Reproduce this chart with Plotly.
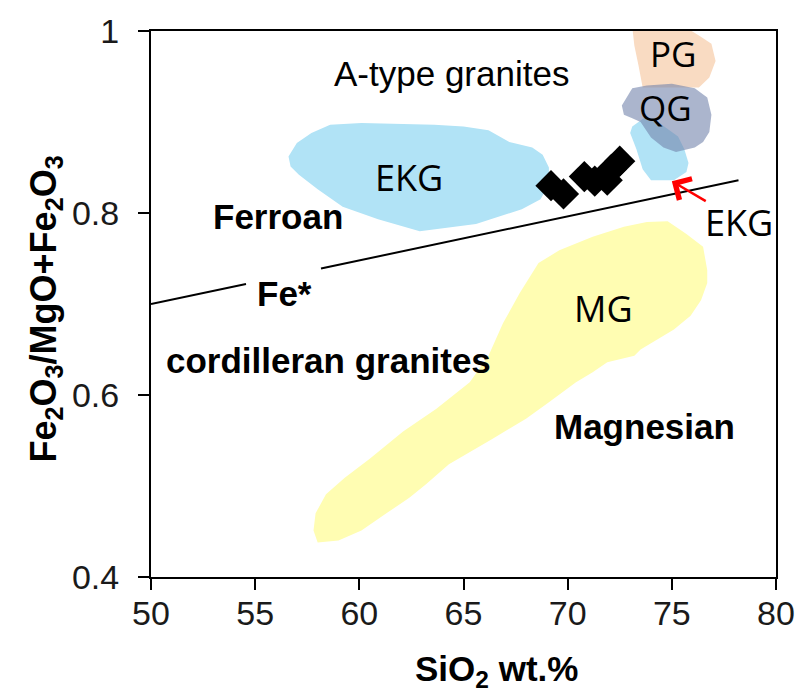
import plotly.graph_objects as go

# ---- data (SiO2 wt.%, Fe2O3/(MgO+Fe2O3)) ----
ekg_x = [56.6, 57.0, 57.7, 58.6, 60.1, 63.6, 65.0, 66.2, 67.2, 68.3, 68.8, 69.1, 69.1, 68.7, 67.8, 65.6, 62.9, 60.9, 59.2, 58.0, 57.1, 56.7]
ekg_y = [0.862, 0.877, 0.888, 0.897, 0.899, 0.897, 0.895, 0.891, 0.878, 0.872, 0.864, 0.850, 0.832, 0.815, 0.804, 0.788, 0.780, 0.793, 0.807, 0.826, 0.842, 0.851]

ekg2_x = [73.1, 73.7, 74.4, 75.3, 75.6, 75.8, 75.7, 75.1, 74.0, 73.6, 73.3, 73.0]
ekg2_y = [0.895, 0.905, 0.899, 0.884, 0.870, 0.855, 0.845, 0.836, 0.836, 0.848, 0.870, 0.888]

pg_x = [73.1, 75.6, 76.3, 76.9, 77.1, 76.8, 76.3, 75.1, 73.6, 73.4, 73.2]
pg_y = [1.005, 1.005, 0.995, 0.986, 0.967, 0.949, 0.938, 0.938, 0.938, 0.962, 0.984]

qg_x = [72.6, 73.1, 73.8, 75.0, 76.1, 76.7, 76.9, 76.8, 76.5, 76.1, 75.2, 74.6, 74.0, 73.5, 73.1, 72.7]
qg_y = [0.918, 0.937, 0.940, 0.942, 0.937, 0.927, 0.908, 0.889, 0.878, 0.872, 0.867, 0.872, 0.883, 0.900, 0.904, 0.908]

mg_x = [74.8, 75.7, 76.5, 76.7, 76.7, 76.4, 75.9, 75.1, 74.3, 73.5, 73.2, 71.9, 71.2, 70.4, 69.1, 68.0, 66.4, 65.6, 64.3, 63.2, 62.4, 61.3, 60.1, 59.0, 58.0, 57.8, 57.9, 58.4, 59.3, 60.5, 62.1, 63.7, 65.3, 66.2, 66.9, 67.7, 68.6, 69.6, 71.2, 72.7, 73.8]
mg_y = [0.791, 0.777, 0.763, 0.737, 0.723, 0.704, 0.687, 0.672, 0.661, 0.650, 0.643, 0.636, 0.625, 0.614, 0.592, 0.574, 0.552, 0.541, 0.524, 0.502, 0.487, 0.470, 0.451, 0.440, 0.438, 0.451, 0.470, 0.491, 0.509, 0.530, 0.560, 0.585, 0.614, 0.643, 0.679, 0.712, 0.745, 0.759, 0.774, 0.785, 0.790]

samples_x = [69.2, 69.8, 70.8, 71.3, 71.9, 72.1, 72.5]
samples_y = [0.830, 0.821, 0.840, 0.835, 0.836, 0.848, 0.857]

fe_line_x = [50.0, 54.56, None, 58.16, 78.2]
fe_line_y = [0.700, 0.722, None, 0.739, 0.836]

arrow_head = (75.0, 0.835)
arrow_tail = (76.7, 0.812)

x_ticks = [50, 55, 60, 65, 70, 75, 80]
y_ticks = [0.4, 0.6, 0.8, 1.0]
y_tick_text = ["0.4", "0.6", "0.8", "1"]

fig = go.Figure()

def region(xs, ys, color, opacity=1.0):
    fig.add_trace(go.Scatter(x=xs, y=ys, mode="lines", fill="toself",
                             fillcolor=color, line=dict(width=0, color=color),
                             opacity=opacity, hoverinfo="skip", showlegend=False))

region(ekg_x, ekg_y, "rgb(177,227,246)")
region(pg_x, pg_y, "rgb(249,219,194)")
region(ekg2_x, ekg2_y, "rgb(177,227,246)")
region(qg_x, qg_y, "rgb(115,132,172)", 0.6)
region(mg_x, mg_y, "rgb(255,253,178)")

fig.add_trace(go.Scatter(x=fe_line_x, y=fe_line_y, mode="lines",
                         line=dict(color="black", width=2), showlegend=False,
                         hoverinfo="skip"))

fig.add_trace(go.Scatter(x=samples_x, y=samples_y, mode="markers",
                         marker=dict(symbol="diamond", size=24, color="black"),
                         showlegend=False))

arial = "Liberation Sans, Arial, sans-serif"
sans = "Open Sans, Noto Sans, sans-serif"

labels = [
    ("A-type granites", 64.4, 0.953, arial, 35, False),
    ("EKG", 62.4, 0.839, sans, 36, False),
    ("PG", 75.1, 0.975, sans, 35, False),
    ("QG", 74.7, 0.916, sans, 35, False),
    ("MG", 71.7, 0.695, sans, 36, False),
    ("EKG", 78.2, 0.790, sans, 36, False),
    ("Ferroan", 56.1, 0.796, arial, 35, True),
    ("Fe*", 56.4, 0.712, arial, 35, True),
    ("cordilleran granites", 58.5, 0.638, arial, 35, True),
    ("Magnesian", 73.7, 0.565, arial, 35, True),
]
for txt, x, y, fam, size, bold in labels:
    fig.add_annotation(x=x, y=y, xref="x", yref="y", showarrow=False,
                       text=f"<b>{txt}</b>" if bold else txt,
                       font=dict(family=fam, size=size, color="black"))

fig.add_annotation(x=arrow_head[0], y=arrow_head[1], ax=arrow_tail[0], ay=arrow_tail[1],
                   xref="x", yref="y", axref="x", ayref="y", text="",
                   showarrow=True, arrowhead=4, arrowsize=1.9, arrowwidth=2.5,
                   arrowcolor="red")

fig.add_annotation(x=0.553, y=-0.172, xref="paper", yref="paper", showarrow=False,
                   text="<b>SiO<sub>2</sub> wt.%</b>", xanchor="center", yanchor="middle",
                   font=dict(family=arial, size=35, color="black"))
fig.add_annotation(x=-0.168, y=0.49, xref="paper", yref="paper", showarrow=False,
                   text="<b>Fe<sub>2</sub>O<sub>3</sub>/MgO+Fe<sub>2</sub>O<sub>3</sub></b>",
                   textangle=-90, xanchor="center", yanchor="middle",
                   font=dict(family=arial, size=36, color="black"))

axis_common = dict(showgrid=False, zeroline=False, showline=True, linecolor="black",
                   linewidth=2, mirror=True, ticks="outside", ticklen=11,
                   tickwidth=1.5, tickcolor="black",
                   tickfont=dict(family=arial, size=34, color="#1a1a1a"))

fig.update_xaxes(range=[50, 80], tickvals=x_ticks, ticklabelstandoff=-6, **axis_common)
fig.update_yaxes(range=[0.4, 1.0], tickvals=y_ticks, ticktext=y_tick_text,
                 ticklabelstandoff=12, **axis_common)

fig.update_layout(width=807, height=697, margin=dict(l=151, r=24, t=25, b=120),
                  plot_bgcolor="white", paper_bgcolor="white", showlegend=False)

fig.write_html("out.html")
